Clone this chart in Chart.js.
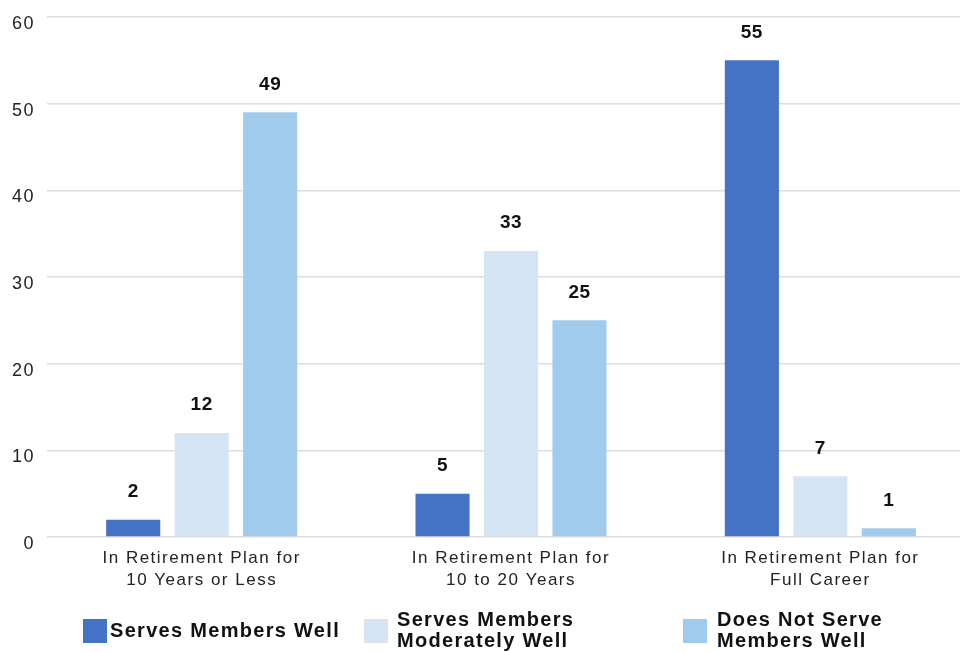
<!DOCTYPE html>
<html>
<head>
<meta charset="utf-8">
<script src="https://cdn.jsdelivr.net/npm/chart.js@4/dist/chart.umd.min.js"></script>
<style>
  html, body { margin: 0; padding: 0; background: #fff; overflow: hidden; }
  #wrap { width: 975px; height: 652px; }
</style>
</head>
<body>
<div id="wrap"><canvas id="RetirementChart"></canvas></div>
<script>
// categories on the x axis (two lines each)
var categories = [
  ['In Retirement Plan for', '10 Years or Less'],
  ['In Retirement Plan for', '10 to 20 Years'],
  ['In Retirement Plan for', 'Full Career']
];

// one array per series
var servesWell = [2, 5, 55];
var servesModerately = [12, 33, 7];
var doesNotServe = [49, 25, 1];

var seriesNames = [
  ['Serves Members Well'],
  ['Serves Members', 'Moderately Well'],
  ['Does Not Serve', 'Members Well']
];
var seriesColors = ['#4472C4', '#D5E5F5', '#A0CBEC'];

var yTicks = [0, 10, 20, 30, 40, 50, 60];

var fontFamily = '"Liberation Sans", Arial, Helvetica, sans-serif';

// the original font runs wider than Arial, widen the axis text a bit
var spacing = {
  id: 'spacing',
  beforeDraw: function(chart) {
    chart.ctx.letterSpacing = '1.5px';
  }
};

// value labels above each bar
var valueLabels = {
  id: 'valueLabels',
  afterDatasetsDraw: function(chart) {
    var ctx = chart.ctx;
    ctx.save();
    ctx.letterSpacing = '0.5px';
    ctx.font = 'bold 19px ' + fontFamily;
    ctx.fillStyle = '#111';
    ctx.textAlign = 'center';
    ctx.textBaseline = 'middle';
    chart.data.datasets.forEach(function(ds, i) {
      var meta = chart.getDatasetMeta(i);
      meta.data.forEach(function(bar, j) {
        ctx.fillText(ds.data[j], bar.x, bar.y - 28);
      });
    });
    ctx.restore();
  }
};

// legend at the bottom, wrapped text like the original
var bottomLegend = {
  id: 'bottomLegend',
  afterDraw: function(chart) {
    var ctx = chart.ctx;
    var boxX = [83, 364, 683];
    var textX = [110, 397, 717];
    var midY = 631;
    ctx.save();
    ctx.letterSpacing = '1.3px';
    ctx.font = 'bold 20px ' + fontFamily;
    ctx.textBaseline = 'middle';
    ctx.textAlign = 'left';
    chart.data.datasets.forEach(function(ds, i) {
      ctx.fillStyle = ds.backgroundColor;
      ctx.fillRect(boxX[i], midY - 12, 24, 24);
      ctx.fillStyle = '#111';
      var lines = seriesNames[i];
      var lh = 21;
      var y0 = midY - (lines.length - 1) * lh / 2;
      lines.forEach(function(t, k) {
        ctx.fillText(t, textX[i], y0 + k * lh);
      });
    });
    ctx.restore();
  }
};

var ctx = document.getElementById('RetirementChart').getContext('2d');
var myChart = new Chart(ctx, {
  type: 'bar',
  data: {
    labels: categories,
    datasets: [
      { label: seriesNames[0].join(' '), data: servesWell, backgroundColor: seriesColors[0] },
      { label: seriesNames[1].join(' '), data: servesModerately, backgroundColor: seriesColors[1] },
      { label: seriesNames[2].join(' '), data: doesNotServe, backgroundColor: seriesColors[2] }
    ]
  },
  options: {
    responsive: true,
    maintainAspectRatio: false,
    animation: false,
    layout: { padding: { top: 17, right: 0, left: 0, bottom: 0 } },
    datasets: {
      bar: { categoryPercentage: 0.664, barPercentage: 0.79 }
    },
    plugins: {
      legend: { display: false },
      tooltip: { enabled: false }
    },
    scales: {
      x: {
        grid: { display: false, drawTicks: false },
        border: { display: false },
        ticks: {
          color: '#222',
          padding: 10,
          maxRotation: 0,
          font: { family: fontFamily, size: 17, lineHeight: 1.3 }
        },
        afterFit: function(scale) { scale.height = 115; }
      },
      y: {
        min: 0,
        max: 60,
        afterBuildTicks: function(scale) {
          scale.ticks = yTicks.map(function(v) { return { value: v }; });
        },
        grid: { color: '#dddddd', lineWidth: 1.5, drawTicks: false },
        border: { display: false },
        ticks: {
          color: '#222',
          padding: 12,
          labelOffset: 7,
          font: { family: fontFamily, size: 18 }
        },
        afterFit: function(scale) {
          scale.width = 47;
          scale.paddingTop = 0;
          scale.paddingBottom = 0;
        }
      }
    }
  },
  plugins: [spacing, valueLabels, bottomLegend]
});
</script>
</body>
</html>
